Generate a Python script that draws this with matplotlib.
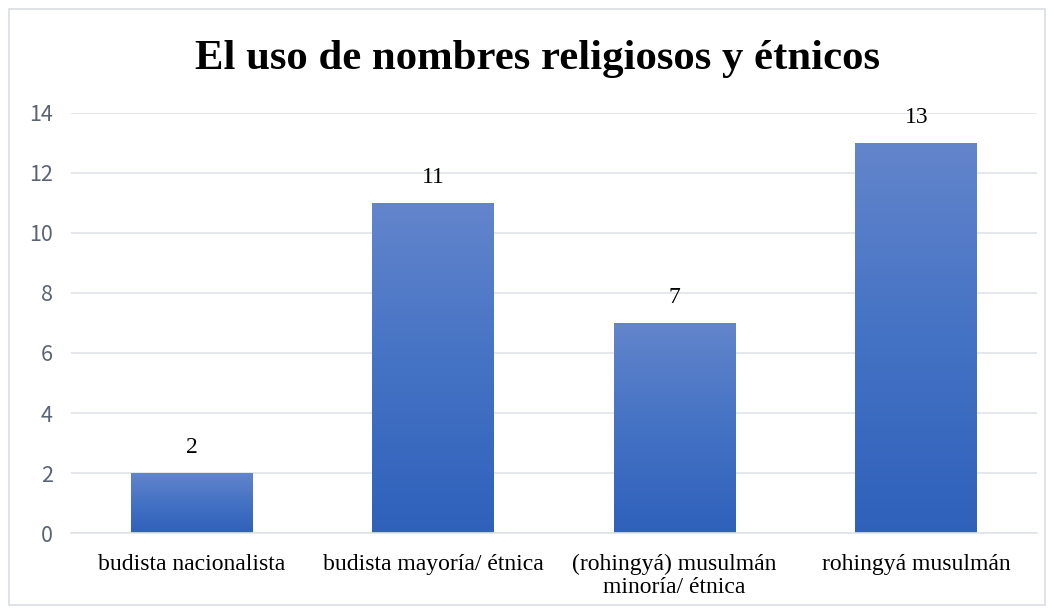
import matplotlib
matplotlib.use('Agg')
import matplotlib.pyplot as plt
import numpy as np
from matplotlib.colors import LinearSegmentedColormap
from matplotlib.patches import Rectangle

# data
categories = ['budista nacionalista', 'budista mayoría/ étnica',
              '(rohingyá) musulmán\nminoría/ étnica', 'rohingyá musulmán']
counts = [2, 11, 7, 13]
yticks = [0, 2, 4, 6, 8, 10, 12, 14]

fig = plt.figure(figsize=(10.54, 6.14), dpi=100)
ax = fig.add_axes([0.0671, 0.1319, 0.9168, 0.6841])

# outer chart border
fig.patches.append(Rectangle((9 / 1054, 9 / 614), 1036 / 1054, 596 / 614,
                             transform=fig.transFigure, fill=False,
                             edgecolor='#d9dde3', linewidth=1.2))

cmap = LinearSegmentedColormap.from_list('bar', ['#2f61bb', '#4472c4', '#6385cc'])
grad = np.linspace(0, 1, 256).reshape(-1, 1)

x = np.arange(len(categories))
bars = ax.bar(x, counts, width=0.505, color='none', zorder=2)
for b, v in zip(bars, counts):
    x0, w, h = b.get_x(), b.get_width(), b.get_height()
    im = ax.imshow(grad, cmap=cmap, origin='lower', aspect='auto',
                   extent=[x0, x0 + w, 0, h], zorder=2)
    im.set_clip_path(b)
    ax.text(b.get_x() + w / 2, h + 0.85, str(v), ha='center', va='center',
            fontsize=17, family='Liberation Serif', color='black', zorder=3)

ax.set_xlim(-0.5, len(categories) - 0.5)
ax.set_ylim(0, 14)
ax.set_yticks(yticks)
ax.set_yticklabels([str(t) for t in yticks], family=['Noto Sans CJK SC', 'DejaVu Sans'],
                   fontweight='light', fontsize=15.5, color='#5a6375')
ax.set_xticks(x)
ax.set_xticklabels(categories, family='Liberation Serif', fontsize=17,
                   color='black', linespacing=1.15)
ax.tick_params(axis='both', length=0)
ax.tick_params(axis='y', pad=13)
ax.tick_params(axis='x', pad=15)
ax.grid(axis='y', color='#dfe3e8', linewidth=1.2, zorder=0)
ax.set_axisbelow(True)
for s in ['top', 'right', 'left']:
    ax.spines[s].set_visible(False)
ax.spines['bottom'].set_color('#dfe3e8')
ax.spines['bottom'].set_linewidth(1.2)

fig.text(0.5098, 0.904, 'El uso de nombres religiosos y étnicos', ha='center',
         va='center', family='Liberation Serif', fontweight='bold', fontsize=30.8)

fig.savefig('out.png', dpi=100)
